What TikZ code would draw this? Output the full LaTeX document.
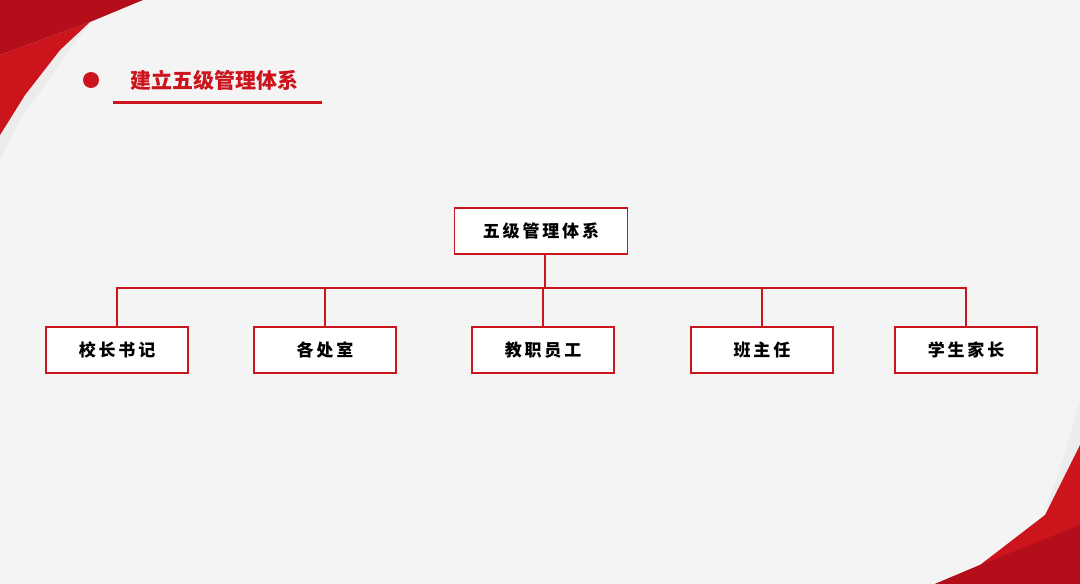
\documentclass[tikz,border=0pt]{standalone}
\usepackage{fontspec}
\newfontfamily\cjk{Noto Sans CJK SC}
\usetikzlibrary{positioning}
\definecolor{darkred}{HTML}{B30E1A}
\definecolor{midred}{HTML}{CC141C}
\definecolor{bgray}{HTML}{F4F4F4}
\tikzset{
    unit/.style={draw=midred, line width=1.3pt, fill=white, minimum width=142pt, minimum height=46pt, font=\cjk\fontsize{17}{17}\selectfont\bfseries, text=black},
    link/.style={draw=midred, line width=1.3pt}
}

\begin{document}
\begin{tikzpicture}[x=1pt, y=-1pt]
\useasboundingbox (0,0) rectangle (1080,584);
\fill[bgray] (0,0) rectangle (1080,584);
% corners
\fill[gray!15] (0,60) -- (90,22) -- (20,120) -- (0,160) -- cycle;
\fill[midred] (0,55) -- (90,22) -- (60,50) -- (25,95) -- (0,135) -- cycle;
\fill[darkred] (0,0) -- (143,0) -- (90,22) -- (0,55) -- cycle;
\fill[gray!15] (1080,400) -- (1080,460) -- (1045,510) -- (1060,470) -- cycle;
\fill[midred] (1080,445) -- (1080,584) -- (935,584) -- (980,565) -- (1045,515) -- cycle;
\fill[darkred] (1080,525) -- (1080,584) -- (935,584) -- (980,565) -- cycle;
% title
\fill[midred] (91,80) circle (8);
\node[anchor=west, text=midred, font=\cjk\fontsize{21}{21}\selectfont\bfseries] (title) at (127,80) {建立五级管理体系};
\draw[midred, line width=3pt] (113,102) -- (322,102);
% chart
\node[unit, minimum width=173pt] (top) at (541,231) {五\,级\,管\,理\,体\,系};
\node[unit] (u1) at (117,350) {校\,长\,书\,记};
\node[unit] (u2) at (325,350) {各\,处\,室};
\node[unit] (u3) at (543,350) {教\,职\,员\,工};
\node[unit] (u4) at (762,350) {班\,主\,任};
\node[unit] (u5) at (966,350) {学\,生\,家\,长};
\coordinate (hub) at (545,288);
\draw[link] (top.south -| hub) -- (hub);
\draw[link] (u1.north) |- (hub) -| (u5.north);
\foreach \n in {u2,u3,u4}
    \draw[link] (\n.north) -- (\n.north |- hub);
\end{tikzpicture}
\end{document}
